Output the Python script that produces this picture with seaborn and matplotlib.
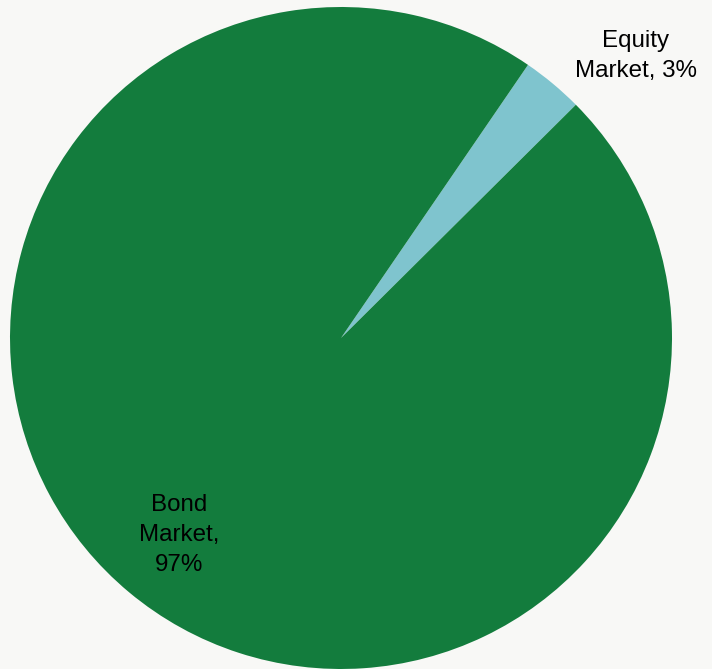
import matplotlib
matplotlib.use("Agg")
import matplotlib.pyplot as plt
import seaborn as sns

categories = ["Equity Market", "Bond Market"]
shares = [3, 97]
label_texts = ["Equity\nMarket, 3%", "Bond\nMarket,\n97%"]
colors = ["#7FC4CE", "#137C3D"]

sns.set_style("white")
plt.rcParams['font.family'] = ['Liberation Sans', 'DejaVu Sans']

W, H = 712, 669
fig = plt.figure(figsize=(W / 100, H / 100), dpi=100)
bg = "#F8F8F6"
fig.patch.set_facecolor(bg)
ax = fig.add_axes([0, 0, 1, 1])
ax.set_facecolor(bg)

cx, cy, r = 341, H - 338, 331
ax.pie(shares, colors=colors, startangle=44.8, counterclock=True,
       center=(cx, cy), radius=r, frame=False,
       wedgeprops=dict(linewidth=0))
ax.set_xlim(0, W)
ax.set_ylim(0, H)
ax.set_aspect("equal")
ax.axis("off")

label_pos = [(636, H - 56), (179, H - 535)]
for txt, (x, y) in zip(label_texts, label_pos):
    ax.text(x, y, txt, ha="center", va="center", fontsize=17.4,
            color="black", linespacing=1.45)

fig.savefig("out.png", dpi=100, facecolor=bg)
